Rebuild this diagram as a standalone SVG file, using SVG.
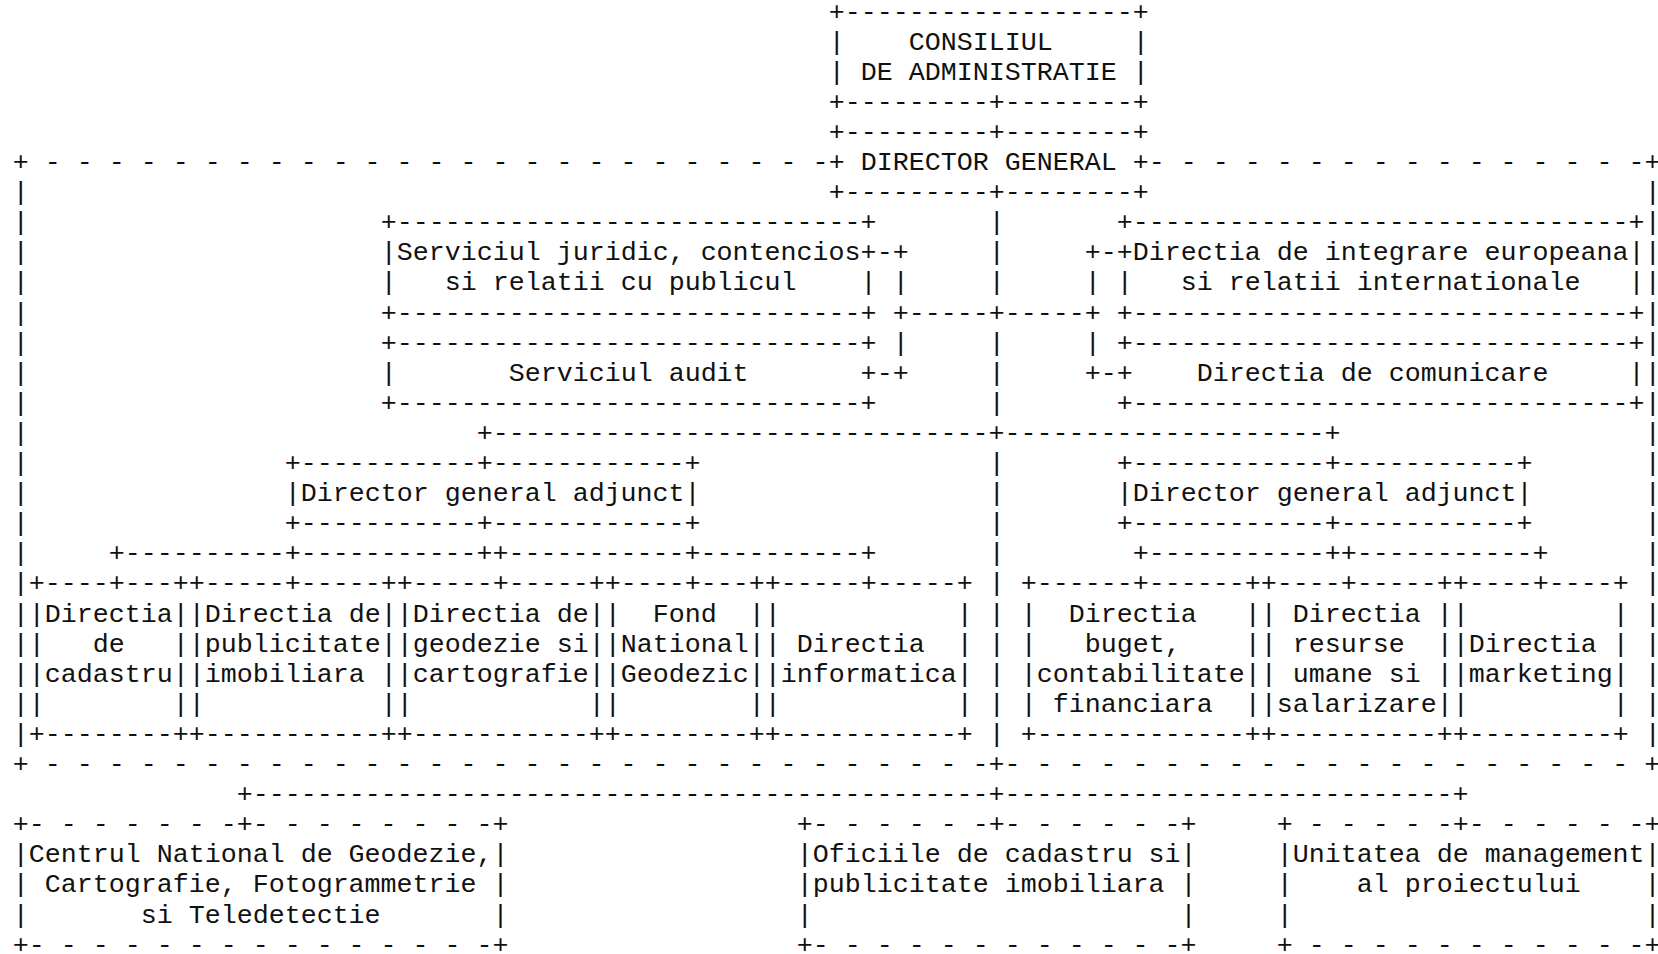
<svg xmlns="http://www.w3.org/2000/svg" width="1658" height="954" viewBox="0 0 1658 954">
<style>
text{font-family:"Liberation Mono","Courier New",monospace;font-size:26.67px;fill:#111;white-space:pre}
</style>
<rect width="1658" height="954" fill="#fff"/>
<g transform="translate(12.7,19.5)">
<g id="frame-central">
<text x="0" y="150.5" xml:space="preserve">+ - - - - - - - - - - - - - - - - - - - - - - - - -</text>
<text x="1136" y="150.5" xml:space="preserve">- - - - - - - - - - - - - - - -+</text>
<text x="0" y="752.5" xml:space="preserve">+ - - - - - - - - - - - - - - - - - - - - - - - - - - - - - -+- - - - - - - - - - - - - - - - - - - - +</text>
<text xml:space="preserve"><tspan x="0" y="180.6">|</tspan><tspan x="0" y="210.7">|</tspan><tspan x="0" y="240.8">|</tspan><tspan x="0" y="270.9">|</tspan><tspan x="0" y="301">|</tspan><tspan x="0" y="331.1">|</tspan><tspan x="0" y="361.2">|</tspan><tspan x="0" y="391.3">|</tspan><tspan x="0" y="421.4">|</tspan><tspan x="0" y="451.5">|</tspan><tspan x="0" y="481.6">|</tspan><tspan x="0" y="511.7">|</tspan><tspan x="0" y="541.8">|</tspan><tspan x="0" y="571.9">|</tspan><tspan x="0" y="602">|</tspan><tspan x="0" y="632.1">|</tspan><tspan x="0" y="662.2">|</tspan><tspan x="0" y="692.3">|</tspan><tspan x="0" y="722.4">|</tspan></text>
<text xml:space="preserve"><tspan x="1632" y="180.6">|</tspan><tspan x="1632" y="210.7">|</tspan><tspan x="1632" y="240.8">|</tspan><tspan x="1632" y="270.9">|</tspan><tspan x="1632" y="301">|</tspan><tspan x="1632" y="331.1">|</tspan><tspan x="1632" y="361.2">|</tspan><tspan x="1632" y="391.3">|</tspan><tspan x="1632" y="421.4">|</tspan><tspan x="1632" y="451.5">|</tspan><tspan x="1632" y="481.6">|</tspan><tspan x="1632" y="511.7">|</tspan><tspan x="1632" y="541.8">|</tspan><tspan x="1632" y="571.9">|</tspan><tspan x="1632" y="602">|</tspan><tspan x="1632" y="632.1">|</tspan><tspan x="1632" y="662.2">|</tspan><tspan x="1632" y="692.3">|</tspan><tspan x="1632" y="722.4">|</tspan></text>
</g>
<g id="connectors">
<text xml:space="preserve"><tspan x="976" y="210.7">|</tspan><tspan x="976" y="240.8">|</tspan><tspan x="976" y="270.9">|</tspan><tspan x="976" y="331.1">|</tspan><tspan x="976" y="361.2">|</tspan><tspan x="976" y="391.3">|</tspan><tspan x="976" y="451.5">|</tspan><tspan x="976" y="481.6">|</tspan><tspan x="976" y="511.7">|</tspan><tspan x="976" y="541.8">|</tspan><tspan x="976" y="571.9">|</tspan><tspan x="976" y="602">|</tspan><tspan x="976" y="632.1">|</tspan><tspan x="976" y="662.2">|</tspan><tspan x="976" y="692.3">|</tspan><tspan x="976" y="722.4">|</tspan></text>
<text x="864" y="240.8" xml:space="preserve">-+</text>
<text x="1072" y="240.8" xml:space="preserve">+-</text>
<text x="880" y="270.9" xml:space="preserve">|</text>
<text x="1072" y="270.9" xml:space="preserve">|</text>
<text x="880" y="301" xml:space="preserve">+-----+-----+</text>
<text x="880" y="331.1" xml:space="preserve">|</text>
<text x="1072" y="331.1" xml:space="preserve">|</text>
<text x="864" y="361.2" xml:space="preserve">-+</text>
<text x="1072" y="361.2" xml:space="preserve">+-</text>
<text x="464" y="421.4" xml:space="preserve">+-------------------------------+--------------------+</text>
<text x="96" y="541.8" xml:space="preserve">+----------+-----------++-----------+----------+</text>
<text x="1120" y="541.8" xml:space="preserve">+-----------++-----------+</text>
<text x="224" y="782.6" xml:space="preserve">+----------------------------------------------+----------------------------+</text>
</g>
<g id="consiliul-de-administratie">
<text xml:space="preserve"><tspan x="816" y="0">+------------------+</tspan><tspan x="816" y="30.1">|    CONSILIUL     |</tspan><tspan x="816" y="60.2">| DE ADMINISTRATIE |</tspan><tspan x="816" y="90.3">+---------+--------+</tspan></text>
</g>
<g id="director-general">
<text xml:space="preserve"><tspan x="816" y="120.4">+---------+--------+</tspan><tspan x="816" y="150.5">+ DIRECTOR GENERAL +</tspan><tspan x="816" y="180.6">+---------+--------+</tspan></text>
</g>
<g id="serviciul-juridic">
<text xml:space="preserve"><tspan x="368" y="210.7">+-----------------------------+</tspan><tspan x="368" y="240.8">|Serviciul juridic, contencios+</tspan><tspan x="368" y="270.9">|   si relatii cu publicul    |</tspan><tspan x="368" y="301">+-----------------------------+</tspan></text>
</g>
<g id="serviciul-audit">
<text xml:space="preserve"><tspan x="368" y="331.1">+-----------------------------+</tspan><tspan x="368" y="361.2">|       Serviciul audit       +</tspan><tspan x="368" y="391.3">+-----------------------------+</tspan></text>
</g>
<g id="directia-integrare-europeana">
<text xml:space="preserve"><tspan x="1104" y="210.7">+-------------------------------+</tspan><tspan x="1104" y="240.8">+Directia de integrare europeana|</tspan><tspan x="1104" y="270.9">|   si relatii internationale   |</tspan><tspan x="1104" y="301">+-------------------------------+</tspan></text>
</g>
<g id="directia-comunicare">
<text xml:space="preserve"><tspan x="1104" y="331.1">+-------------------------------+</tspan><tspan x="1104" y="361.2">+    Directia de comunicare     |</tspan><tspan x="1104" y="391.3">+-------------------------------+</tspan></text>
</g>
<g id="director-general-adjunct-1">
<text xml:space="preserve"><tspan x="272" y="451.5">+-----------+------------+</tspan><tspan x="272" y="481.6">|Director general adjunct|</tspan><tspan x="272" y="511.7">+-----------+------------+</tspan></text>
</g>
<g id="director-general-adjunct-2">
<text xml:space="preserve"><tspan x="1104" y="451.5">+------------+-----------+</tspan><tspan x="1104" y="481.6">|Director general adjunct|</tspan><tspan x="1104" y="511.7">+------------+-----------+</tspan></text>
</g>
<g id="directia-cadastru">
<text xml:space="preserve"><tspan x="16" y="571.9">+----+---+</tspan><tspan x="16" y="602">|Directia|</tspan><tspan x="16" y="632.1">|   de   |</tspan><tspan x="16" y="662.2">|cadastru|</tspan><tspan x="16" y="692.3">|        |</tspan><tspan x="16" y="722.4">+--------+</tspan></text>
</g>
<g id="directia-publicitate">
<text xml:space="preserve"><tspan x="176" y="571.9">+-----+-----+</tspan><tspan x="176" y="602">|Directia de|</tspan><tspan x="176" y="632.1">|publicitate|</tspan><tspan x="176" y="662.2">|imobiliara |</tspan><tspan x="176" y="692.3">|           |</tspan><tspan x="176" y="722.4">+-----------+</tspan></text>
</g>
<g id="directia-geodezie">
<text xml:space="preserve"><tspan x="384" y="571.9">+-----+-----+</tspan><tspan x="384" y="602">|Directia de|</tspan><tspan x="384" y="632.1">|geodezie si|</tspan><tspan x="384" y="662.2">|cartografie|</tspan><tspan x="384" y="692.3">|           |</tspan><tspan x="384" y="722.4">+-----------+</tspan></text>
</g>
<g id="fond-national-geodezic">
<text xml:space="preserve"><tspan x="592" y="571.9">+----+---+</tspan><tspan x="592" y="602">|  Fond  |</tspan><tspan x="592" y="632.1">|National|</tspan><tspan x="592" y="662.2">|Geodezic|</tspan><tspan x="592" y="692.3">|        |</tspan><tspan x="592" y="722.4">+--------+</tspan></text>
</g>
<g id="directia-informatica">
<text xml:space="preserve"><tspan x="752" y="571.9">+-----+-----+</tspan><tspan x="752" y="602">|           |</tspan><tspan x="752" y="632.1">| Directia  |</tspan><tspan x="752" y="662.2">|informatica|</tspan><tspan x="752" y="692.3">|           |</tspan><tspan x="752" y="722.4">+-----------+</tspan></text>
</g>
<g id="directia-buget">
<text xml:space="preserve"><tspan x="1008" y="571.9">+------+------+</tspan><tspan x="1008" y="602">|  Directia   |</tspan><tspan x="1008" y="632.1">|   buget,    |</tspan><tspan x="1008" y="662.2">|contabilitate|</tspan><tspan x="1008" y="692.3">| financiara  |</tspan><tspan x="1008" y="722.4">+-------------+</tspan></text>
</g>
<g id="directia-resurse-umane">
<text xml:space="preserve"><tspan x="1248" y="571.9">+----+-----+</tspan><tspan x="1248" y="602">| Directia |</tspan><tspan x="1248" y="632.1">| resurse  |</tspan><tspan x="1248" y="662.2">| umane si |</tspan><tspan x="1248" y="692.3">|salarizare|</tspan><tspan x="1248" y="722.4">+----------+</tspan></text>
</g>
<g id="directia-marketing">
<text xml:space="preserve"><tspan x="1440" y="571.9">+----+----+</tspan><tspan x="1440" y="602">|         |</tspan><tspan x="1440" y="632.1">|Directia |</tspan><tspan x="1440" y="662.2">|marketing|</tspan><tspan x="1440" y="692.3">|         |</tspan><tspan x="1440" y="722.4">+---------+</tspan></text>
</g>
<g id="centrul-national-geodezie">
<text xml:space="preserve"><tspan x="0" y="812.7">+- - - - - - -+- - - - - - - -+</tspan><tspan x="0" y="842.8">|Centrul National de Geodezie,|</tspan><tspan x="0" y="872.9">| Cartografie, Fotogrammetrie |</tspan><tspan x="0" y="903">|       si Teledetectie       |</tspan><tspan x="0" y="933.1">+- - - - - - - - - - - - - - -+</tspan></text>
</g>
<g id="oficiile-cadastru">
<text xml:space="preserve"><tspan x="784" y="812.7">+- - - - - -+- - - - - -+</tspan><tspan x="784" y="842.8">|Oficiile de cadastru si|</tspan><tspan x="784" y="872.9">|publicitate imobiliara |</tspan><tspan x="784" y="903">|                       |</tspan><tspan x="784" y="933.1">+- - - - - - - - - - - -+</tspan></text>
</g>
<g id="unitatea-management">
<text xml:space="preserve"><tspan x="1264" y="812.7">+ - - - - -+- - - - - -+</tspan><tspan x="1264" y="842.8">|Unitatea de management|</tspan><tspan x="1264" y="872.9">|    al proiectului    |</tspan><tspan x="1264" y="903">|                      |</tspan><tspan x="1264" y="933.1">+ - - - - - - - - - - -+</tspan></text>
</g>
</g>
</svg>
